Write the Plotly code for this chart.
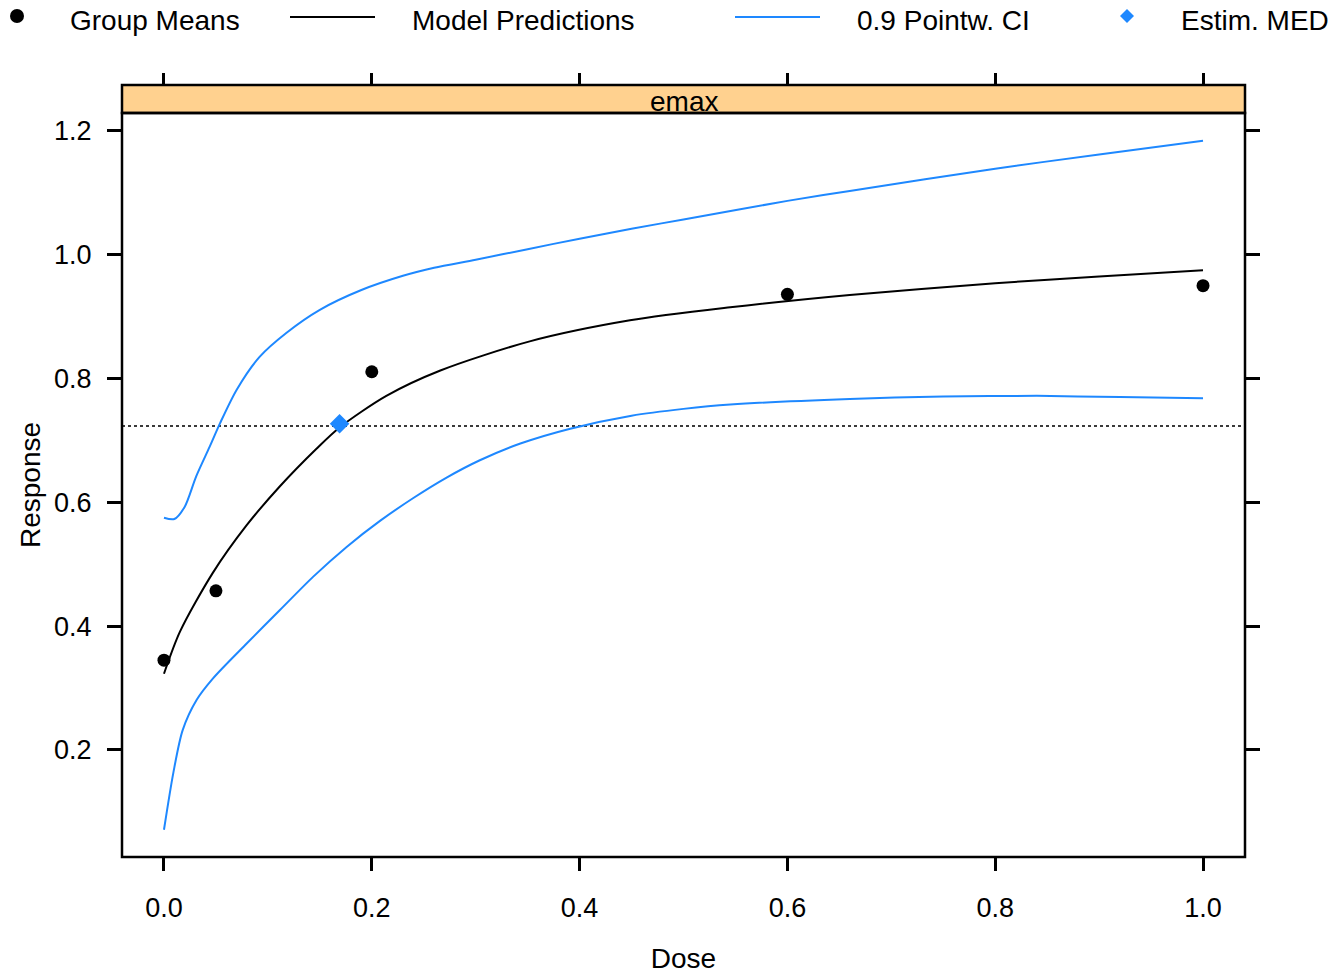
import plotly.graph_objects as go

# ---------------- data ----------------
mean_dose = [0.0, 0.05, 0.2, 0.6, 1.0]
mean_resp = [0.345, 0.457, 0.811, 0.936, 0.950]

pred_dose = [0.0, 0.0154, 0.047, 0.0796, 0.1116, 0.147, 0.169, 0.214, 0.266,
             0.352, 0.4485, 0.545, 0.66, 0.8, 0.9, 1.0]
pred_resp = [0.323, 0.391, 0.486, 0.563, 0.626, 0.687, 0.721, 0.772, 0.813,
             0.860, 0.894, 0.915, 0.935, 0.954, 0.965, 0.975]

ciup_dose = [0.0, 0.01, 0.02, 0.031, 0.044, 0.054, 0.07, 0.092, 0.118, 0.15, 0.19,
             0.23, 0.26, 0.3, 0.35, 0.4, 0.45, 0.5, 0.6, 0.66, 0.8, 0.9, 1.0]
ciup_resp = [0.575, 0.573, 0.593, 0.642, 0.690, 0.728, 0.782, 0.835, 0.874, 0.911, 0.943,
             0.966, 0.979, 0.992, 1.009, 1.026, 1.042, 1.057, 1.087, 1.103, 1.139, 1.162, 1.184]

cilo_dose = [0.0, 0.009, 0.018, 0.0315, 0.0474, 0.0796, 0.1116, 0.1437, 0.1758, 0.2079,
             0.240, 0.272, 0.304, 0.343, 0.391, 0.45, 0.5, 0.545, 0.66, 0.75, 0.84, 0.92, 1.0]
cilo_resp = [0.071, 0.163, 0.232, 0.281, 0.316, 0.372, 0.426, 0.480, 0.528, 0.570,
             0.607, 0.640, 0.668, 0.695, 0.719, 0.740, 0.751, 0.758, 0.767, 0.771, 0.772, 0.770, 0.768]

med_dose = [0.169]
med_resp = [0.727]
med_target = 0.7234

x_ticks = [0.0, 0.2, 0.4, 0.6, 0.8, 1.0]
x_labels = ["0.0", "0.2", "0.4", "0.6", "0.8", "1.0"]
y_ticks = [0.2, 0.4, 0.6, 0.8, 1.0, 1.2]
y_labels = ["0.2", "0.4", "0.6", "0.8", "1.0", "1.2"]

panel = "emax"
legend_items = ["Group Means", "Model Predictions", "0.9 Pointw. CI", "Estim. MED"]

# ---------------- styling ----------------
W, H = 1331, 974
ML, MR, MT, MB = 122, 86, 85, 117
PW = W - ML - MR
PH = H - MT - MB
STRIP = 28
YDOM_TOP = (PH - STRIP) / PH

BLUE = "#1E88FF"
FONT = "Liberation Sans, Arial, sans-serif"
FS = 27
FS_BIG = 28

def px_x(px):  # page pixel -> paper
    return (px - ML) / PW

def px_y(py):
    return (MT + PH - py) / PH

fig = go.Figure()

fig.add_trace(go.Scatter(x=ciup_dose, y=ciup_resp, mode="lines",
                         line=dict(color=BLUE, width=2, shape="spline", smoothing=0.8),
                         showlegend=False, name="0.9 Pointw. CI"))
fig.add_trace(go.Scatter(x=cilo_dose, y=cilo_resp, mode="lines",
                         line=dict(color=BLUE, width=2, shape="spline", smoothing=0.8),
                         showlegend=False, name="0.9 Pointw. CI"))
fig.add_trace(go.Scatter(x=pred_dose, y=pred_resp, mode="lines",
                         line=dict(color="black", width=2, shape="spline", smoothing=0.8),
                         showlegend=False, name="Model Predictions"))
fig.add_trace(go.Scatter(x=mean_dose, y=mean_resp, mode="markers",
                         marker=dict(color="black", size=13), showlegend=False, name="Group Means"))
fig.add_trace(go.Scatter(x=med_dose, y=med_resp, mode="markers",
                         marker=dict(color=BLUE, size=15, symbol="diamond"), showlegend=False,
                         name="Estim. MED"))
# invisible trace on top axis so its ticks are drawn
fig.add_trace(go.Scatter(x=[x_ticks[0]], y=[y_ticks[0]], xaxis="x2", mode="markers",
                         marker=dict(opacity=0), showlegend=False, hoverinfo="skip"))

# horizontal dotted target line
fig.add_shape(type="line", xref="paper", yref="y", x0=0, x1=1, y0=med_target, y1=med_target,
              line=dict(color="#3a3a3a", width=2, dash="dot"), layer="below")

# strip
fig.add_shape(type="rect", xref="paper", yref="paper", x0=0, x1=1, y0=YDOM_TOP, y1=1,
              fillcolor="#FFD18F", line=dict(color="black", width=2.5), layer="below")
# panel frame
fig.add_shape(type="rect", xref="paper", yref="paper", x0=0, x1=1, y0=0, y1=YDOM_TOP,
              line=dict(color="black", width=2.5), layer="above")

fig.add_annotation(text=panel, xref="paper", yref="paper", x=0.5, y=px_y(102),
                   showarrow=False, font=dict(family=FONT, size=FS_BIG, color="black"),
                   xanchor="center", yanchor="middle")

# legend (manual, to match positions)
ly = 21
fig.add_shape(type="circle", xref="paper", yref="paper",
              x0=px_x(10), x1=px_x(24), y0=px_y(9), y1=px_y(23),
              fillcolor="black", line=dict(color="black", width=0))
fig.add_shape(type="line", xref="paper", yref="paper",
              x0=px_x(290), x1=px_x(375), y0=px_y(17), y1=px_y(17),
              line=dict(color="black", width=2))
fig.add_shape(type="line", xref="paper", yref="paper",
              x0=px_x(735), x1=px_x(820), y0=px_y(17), y1=px_y(17),
              line=dict(color=BLUE, width=2))
cx, cy, r = 1127, 16, 7
fig.add_shape(type="path", xref="paper", yref="paper",
              path=f"M {px_x(cx)} {px_y(cy - r)} L {px_x(cx + r)} {px_y(cy)} "
                   f"L {px_x(cx)} {px_y(cy + r)} L {px_x(cx - r)} {px_y(cy)} Z",
              fillcolor=BLUE, line=dict(color=BLUE, width=0))
for label, lx in zip(legend_items, [68, 410, 855, 1179]):
    fig.add_annotation(text=label, xref="paper", yref="paper", x=px_x(lx), y=px_y(ly),
                       showarrow=False, xanchor="left", yanchor="middle",
                       font=dict(family=FONT, size=FS_BIG, color="black"))

axis_common = dict(showgrid=False, zeroline=False, showline=False, ticks="outside",
                   tickwidth=2.5, tickcolor="black",
                   tickfont=dict(family=FONT, size=FS, color="black"))

fig.update_layout(
    width=W, height=H,
    margin=dict(l=ML, r=MR, t=MT, b=MB, autoexpand=False),
    paper_bgcolor="white", plot_bgcolor="white",
    font=dict(family=FONT, size=FS, color="black"),
    showlegend=False,
    xaxis=dict(range=[-0.0404, 1.0404], tickvals=x_ticks, ticktext=x_labels, ticklen=13,
               ticklabelstandoff=14,
               title=dict(text="Dose", standoff=27, font=dict(family=FONT, size=FS_BIG)),
               anchor="y", **axis_common),
    xaxis2=dict(range=[-0.0404, 1.0404], tickvals=x_ticks, overlaying="x", side="top",
                anchor="free", position=1, ticklen=12, showticklabels=False,
                **axis_common),
    yaxis=dict(range=[0.027, 1.229], domain=[0, YDOM_TOP], tickvals=y_ticks, ticktext=y_labels,
               ticklen=14, mirror="ticks", ticklabelstandoff=10,
               title=dict(text="Response", standoff=5, font=dict(family=FONT, size=FS_BIG)),
               **axis_common),
)

fig.write_html("out.html", config={"displayModeBar": False},
               post_script="document.body.style.margin='0';document.body.style.overflow='hidden';")
